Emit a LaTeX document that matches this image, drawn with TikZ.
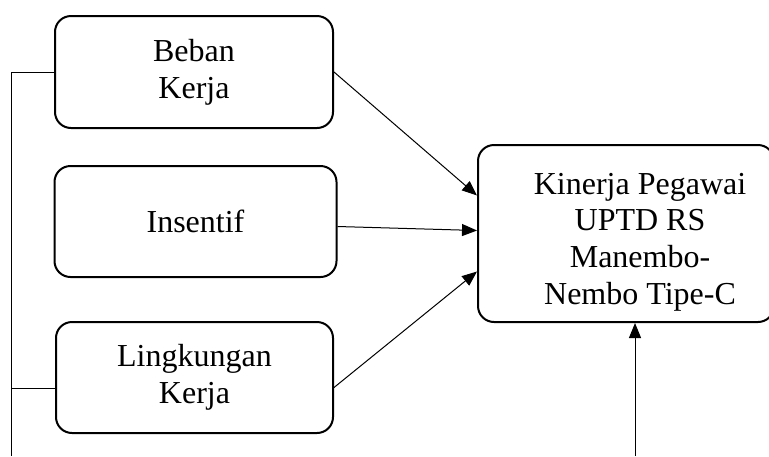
\documentclass[tikz,border=0pt]{standalone}
\usepackage{fontspec}
\setmainfont{Liberation Serif}
\usetikzlibrary{arrows.meta,calc}
\tikzset{
  kotak/.style={draw, line width=1pt, rounded corners=8pt, align=center},
  panah/.style={-{Triangle[length=7.5pt,width=6pt]}, line width=0.5pt},
  garis/.style={line width=0.5pt}
}
\begin{document}
\begin{tikzpicture}[x=0.5pt,y=-0.5pt,font=\fontsize{16}{18.3}\selectfont]
  \useasboundingbox (0,0) rectangle (769,456);

  % Variabel bebas
  \node[kotak, minimum width=139pt, minimum height=56pt] (beban) at (194,72) {Beban\\Kerja};
  \node[kotak, minimum width=141pt, minimum height=55.5pt] (insentif) at (195.5,221.5) {Insentif};
  \node[kotak, minimum width=138.5pt, minimum height=55.5pt] (lingkungan) at (194.5,377.5) {Lingkungan\\Kerja};

  % Variabel terikat
  \node[kotak, minimum width=148pt, minimum height=88.5pt] (kinerja) at (626,233.5) {};
  \node[align=center] (kinerjateks) at (640,242) {Kinerja Pegawai\\UPTD RS\\Manembo-\\Nembo Tipe-C};

  % Pengaruh parsial
  \draw[panah] (beban.east) -- ($(kinerja.west)+(0,-38)$);
  \draw[panah] ($(insentif.east)+(0,5)$) -- ($(kinerja.west)+(0,-3)$);
  \draw[panah] ($(lingkungan.east)+(0,10)$) -- ($(kinerja.west)+(0,38)$);

  % Pengaruh simultan
  \coordinate (kiriatas) at (11,72);
  \coordinate (kiribawah) at (11,388);
  \coordinate (ujungkiri) at (11,456);
  \coordinate (ujungkanan) at (635,456);
  \draw[garis] (beban.west) -- (kiriatas) -- (ujungkiri);
  \draw[garis] (kiribawah) -- (kiribawah -| lingkungan.west);
  \draw[panah] (ujungkanan) -- (ujungkanan |- kinerja.south);
\end{tikzpicture}
\end{document}
